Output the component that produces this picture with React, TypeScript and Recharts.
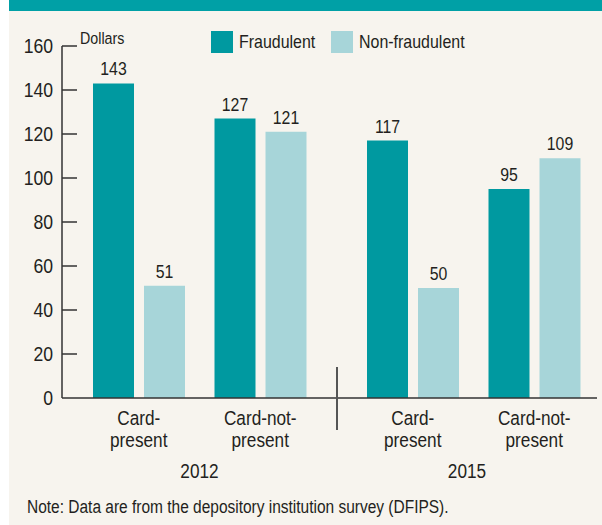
import React from "react";
import { BarChart, Bar, XAxis, YAxis, Legend, LabelList } from "recharts";

const categories = ["Card-present", "Card-not-present"];
const years = ["2012", "2015"];
const fraudulent2012 = [143, 127];
const nonFraudulent2012 = [51, 121];
const fraudulent2015 = [117, 95];
const nonFraudulent2015 = [50, 109];
const yTicks = [0, 20, 40, 60, 80, 100, 120, 140, 160];

// no condensed face installed, so Liberation Sans is squeezed horizontally
const FONT = "'Liberation Sans', Arial, sans-serif";
const SQUEEZE = 0.84;
const TEXT = "#231f20";
const AXIS = "#333333";
const TEAL = "#0099a0";
const LIGHT = "#a7d5d9";
const BG = "#f7f4ee";

if (typeof document !== "undefined") document.body.style.margin = "0";

const build = (fraud: number[], non: number[]) =>
  categories.map((c, i) => ({ category: c, fraudulent: fraud[i], nonFraudulent: non[i] }));

const data2012 = build(fraudulent2012, nonFraudulent2012);
const data2015 = build(fraudulent2015, nonFraudulent2015);

const Narrow = ({ x, y, size, anchor = "start", dy = 0, squeeze = SQUEEZE, children }: any) => (
  <text
    transform={`translate(${x} ${y}) scale(${squeeze} 1)`}
    dy={dy}
    textAnchor={anchor}
    fontSize={size}
    fill={TEXT}
    fontFamily={FONT}
  >
    {children}
  </text>
);

const YTick = (props: any) => {
  const { x, y, payload } = props;
  return (
    <g>
      <Narrow x={x} y={y} size={20} anchor="end" dy="0.36em" squeeze={0.88}>
        {payload.value}
      </Narrow>
      {payload.value !== 0 && <line x1={x + 9} x2={x + 24} y1={y} y2={y} stroke={AXIS} strokeWidth={1.5} />}
      {payload.value === 160 && (
        <Narrow x={x + 27} y={y - 2} size={17}>
          Dollars
        </Narrow>
      )}
    </g>
  );
};

const CategoryTick = (props: any) => {
  const { x, y, payload } = props;
  const s: string = payload.value;
  const cut = s.lastIndexOf("-") + 1;
  return (
    <g>
      <Narrow x={x} y={y + 27} size={20.5} anchor="middle">
        {s.slice(0, cut)}
      </Narrow>
      <Narrow x={x} y={y + 49} size={20.5} anchor="middle">
        {s.slice(cut)}
      </Narrow>
    </g>
  );
};

const ValueLabel = (props: any) => {
  const { x, y, width, value } = props;
  return (
    <Narrow x={x + width / 2} y={y - 8} size={18} anchor="middle" squeeze={0.88}>
      {value}
    </Narrow>
  );
};

const YearLabel = (props: any) => {
  const { viewBox, value } = props;
  return (
    <Narrow x={viewBox.x + viewBox.width / 2} y={viewBox.y + 80} size={20.5} anchor="middle">
      {value}
    </Narrow>
  );
};

const LegendContent = (props: any) => (
  <div style={{ display: "flex", alignItems: "center", fontFamily: FONT, fontSize: 19, color: TEXT }}>
    {props.payload.map((p: any) => (
      <div key={p.value} style={{ display: "flex", alignItems: "center", marginRight: 1 }}>
        <div style={{ width: 22, height: 22, background: p.color, marginRight: 6 }} />
        <span style={{ display: "inline-block", transform: `scaleX(${SQUEEZE})`, transformOrigin: "left center" }}>
          {p.value}
        </span>
      </div>
    ))}
  </div>
);

const YearChart = ({ data, year, width, first }: any) => (
  <BarChart
    width={width}
    height={525}
    data={data}
    margin={{ top: 46, right: first ? 0 : 5, bottom: 0, left: 0 }}
    barSize={41}
    barGap={10}
  >
    <XAxis
      dataKey="category"
      height={127}
      tickLine={false}
      tickSize={0}
      tickMargin={0}
      axisLine={{ stroke: AXIS, strokeWidth: 1.5 }}
      padding={first ? { left: 16, right: 16 } : { left: 15, right: 2 }}
      tick={<CategoryTick />}
      interval={0}
      label={<YearLabel value={year} />}
    />
    <YAxis
      hide={!first}
      domain={[0, 160]}
      ticks={yTicks}
      width={62}
      tickLine={false}
      tickSize={0}
      tickMargin={9}
      axisLine={{ stroke: AXIS, strokeWidth: 1.5 }}
      tick={<YTick />}
      interval={0}
    />
    {first && (
      <Legend
        layout="horizontal"
        verticalAlign="middle"
        align="center"
        content={<LegendContent />}
        wrapperStyle={{ top: 31, left: 211, width: 320 }}
      />
    )}
    <Bar dataKey="fraudulent" name="Fraudulent" fill={TEAL} isAnimationActive={false}>
      <LabelList dataKey="fraudulent" content={<ValueLabel />} />
    </Bar>
    <Bar dataKey="nonFraudulent" name="Non-fraudulent" fill={LIGHT} isAnimationActive={false}>
      <LabelList dataKey="nonFraudulent" content={<ValueLabel />} />
    </Bar>
  </BarChart>
);

export default function App() {
  return (
    <div style={{ position: "relative", width: 602, height: 525, background: "#ffffff", overflow: "hidden" }}>
      <div style={{ position: "absolute", left: 9, top: 0, right: 0, bottom: 0, background: BG }} />
      <div style={{ position: "absolute", left: 9, top: 0, right: 0, height: 11, background: "#00a0a6" }} />
      <div style={{ position: "absolute", left: 0, top: 0 }}>
        <YearChart data={data2012} year={years[0]} width={337} first />
      </div>
      <div style={{ position: "absolute", left: 337, top: 0 }}>
        <YearChart data={data2015} year={years[1]} width={265} first={false} />
      </div>
      <div style={{ position: "absolute", left: 336, top: 367, width: 2, height: 63, background: "#555555" }} />
      <div
        style={{
          position: "absolute",
          left: 27,
          top: 497,
          fontFamily: FONT,
          fontSize: 18,
          color: TEXT,
          whiteSpace: "nowrap",
          transform: "scaleX(0.86)",
          transformOrigin: "left center",
        }}
      >
        Note: Data are from the depository institution survey (DFIPS).
      </div>
    </div>
  );
}
